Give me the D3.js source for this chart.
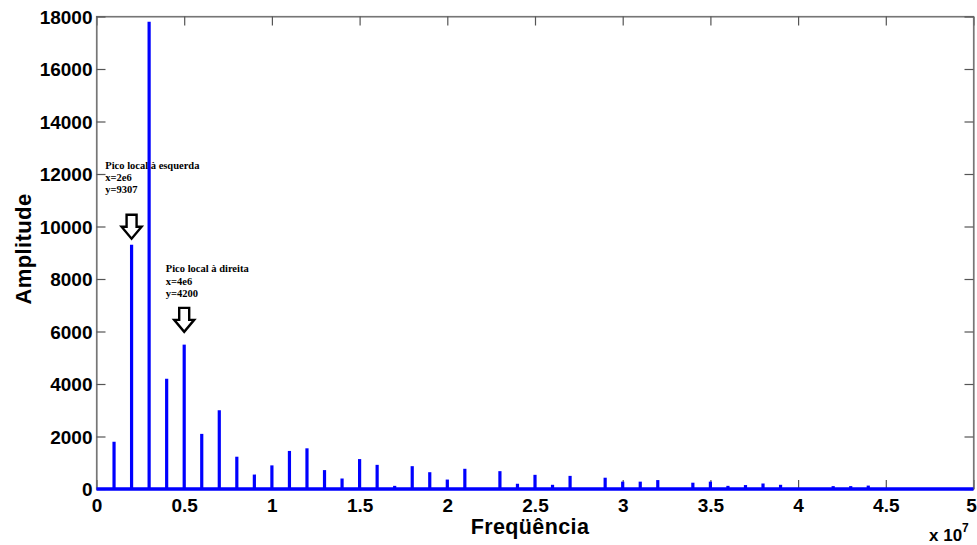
<!DOCTYPE html>
<html><head><meta charset="utf-8">
<script src="https://cdn.jsdelivr.net/npm/d3@7"></script>
<style>body{margin:0;background:#fff}svg{display:block}</style>
</head><body>
<svg id="c" width="977" height="545"></svg>
<script>
// Frequencies in Hz (multiples of 1e6) and amplitudes
const freqs = [1e6,2e6,3e6,4e6,5e6,6e6,7e6,8e6,9e6,10e6,11e6,12e6,13e6,14e6,15e6,16e6,17e6,18e6,19e6,20e6,21e6,23e6,24e6,25e6,26e6,27e6,29e6,30e6,31e6,32e6,34e6,35e6,36e6,37e6,38e6,39e6,42e6,43e6,44e6];
const amps = [1800,9307,17800,4200,5500,2100,3000,1230,550,900,1450,1550,720,400,1140,920,120,870,640,360,770,680,200,540,160,500,430,280,280,340,240,280,120,150,210,160,110,110,130];
const xTicks = [0,0.5e7,1e7,1.5e7,2e7,2.5e7,3e7,3.5e7,4e7,4.5e7,5e7];
const xTickLabels = ["0","0.5","1","1.5","2","2.5","3","3.5","4","4.5","5"];
const yTicks = [0,2000,4000,6000,8000,10000,12000,14000,16000,18000];
const annotations = [
  {lines:["Pico local à esquerda","x=2e6","y=9307"], tx:0.5e6, ty:12200, ax:2e6, ay:10450},
  {lines:["Pico local à direita","x=4e6","y=4200"], tx:3.95e6, ty:8250, ax:5e6, ay:6900}
];

const svg = d3.select("#c");
const L=96.5, R=973.5, T=16.5, B=489;
const x = d3.scaleLinear().domain([0,5e7]).range([L,R]);
const y = d3.scaleLinear().domain([0,18000]).range([B,T]);
const axCol = "#777";

// box
svg.append("rect").attr("x",L).attr("y",T).attr("width",R-L).attr("height",B-T)
  .attr("fill","none").attr("stroke",axCol).attr("stroke-width",1.2);

// axes with inward ticks
const fontTick = "Liberation Sans, Arial, sans-serif";
const gxb = svg.append("g").attr("transform",`translate(0,${B})`)
  .call(d3.axisBottom(x).tickValues(xTicks).tickFormat((d,i)=>xTickLabels[i]).tickSizeInner(-9).tickSizeOuter(0).tickPadding(8));
const gxt = svg.append("g").attr("transform",`translate(0,${T})`)
  .call(d3.axisTop(x).tickValues(xTicks).tickFormat("").tickSizeInner(-9).tickSizeOuter(0));
const gyl = svg.append("g").attr("transform",`translate(${L},0)`)
  .call(d3.axisLeft(y).tickValues(yTicks).tickFormat(d3.format("d")).tickSizeInner(-9).tickSizeOuter(0).tickPadding(4));
const gyr = svg.append("g").attr("transform",`translate(${R},0)`)
  .call(d3.axisRight(y).tickValues(yTicks).tickFormat("").tickSizeInner(-9).tickSizeOuter(0));
[gxb,gxt,gyl,gyr].forEach(g=>{
  g.select(".domain").attr("stroke",axCol).attr("stroke-width",1.2);
  g.selectAll(".tick line").attr("stroke","#555").attr("stroke-width",1.2);
  g.selectAll("text").attr("font-family",fontTick).attr("font-weight","bold")
    .attr("font-size",19).attr("fill","#000");
});
gyl.selectAll(".tick text").attr("dy","0.35em");
gxb.selectAll(".tick text").attr("dy","0.8em");
gxb.selectAll(".tick text").filter((d,i)=>i===xTicks.length-1).attr("dx",-2.5);

// baseline of stems
svg.append("line").attr("x1",x(0)).attr("x2",x(5e7)).attr("y1",y(0)).attr("y2",y(0))
  .attr("stroke","#0000ff").attr("stroke-width",3.5);

// stems
svg.append("g").selectAll("line").data(freqs).join("line")
  .attr("x1",d=>x(d)).attr("x2",d=>x(d))
  .attr("y1",y(0)).attr("y2",(d,i)=>y(amps[i]))
  .attr("stroke","#0000ff").attr("stroke-width",3.2);

// annotations
annotations.forEach(a=>{
  const t = svg.append("text").attr("font-family","Liberation Serif, Times New Roman, serif")
    .attr("font-weight","bold").attr("font-size",10.5).attr("fill","#000");
  a.lines.forEach((ln,i)=>{
    t.append("tspan").attr("x",x(a.tx)).attr("y",y(a.ty)+i*12.3).text(ln);
  });
  // hollow down arrow
  const cx = x(a.ax), ty = y(a.ay);
  const pts = [[cx-5,ty],[cx+5,ty],[cx+5,ty+12],[cx+10,ty+12],[cx,ty+24],[cx-10,ty+12],[cx-5,ty+12]];
  svg.append("polygon").attr("points",pts.map(p=>p.join(",")).join(" "))
    .attr("fill","#fff").attr("stroke","#000").attr("stroke-width",2.4).attr("stroke-linejoin","miter");
});

// axis labels
svg.append("text").attr("x",530).attr("y",534).attr("text-anchor","middle")
  .attr("font-family",fontTick).attr("font-weight","bold").attr("font-size",21.5)
  .attr("letter-spacing",0.4).text("Freqüência");
svg.append("text").attr("transform","translate(31,249) rotate(-90)").attr("text-anchor","middle")
  .attr("font-family",fontTick).attr("font-weight","bold").attr("font-size",22)
  .attr("letter-spacing",0.4).text("Amplitude");
// exponent
const ex = svg.append("text").attr("x",929).attr("y",541)
  .attr("font-family",fontTick).attr("font-weight","bold").attr("font-size",17).text("x 10");
ex.append("tspan").attr("font-size",12).attr("dy",-9).text("7");
</script>
</body></html>
